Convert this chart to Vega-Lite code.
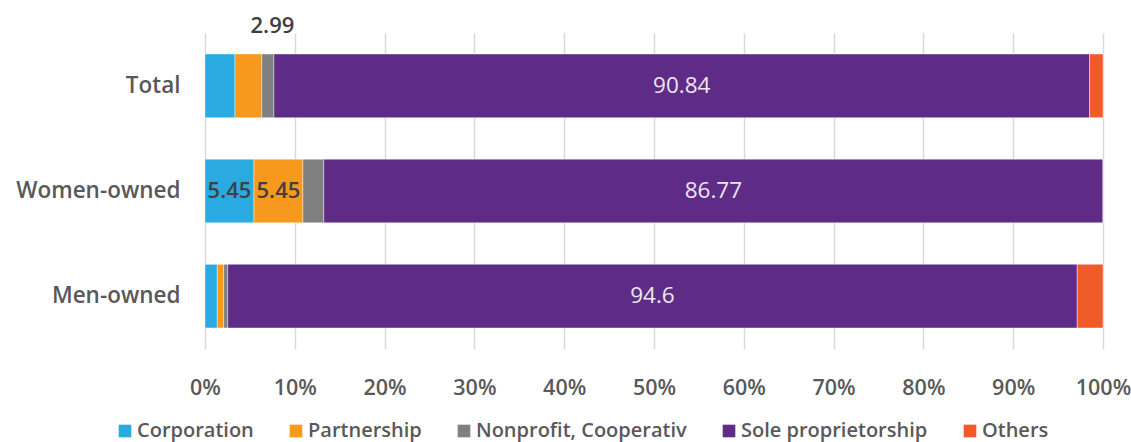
{
  "$schema": "https://vega.github.io/schema/vega-lite/v6.json",
  "width": 898,
  "height": 316,
  "autosize": {"type": "none"},
  "padding": {"left": 205, "top": 33, "right": 28, "bottom": 93},
  "background": "#ffffff",
  "config": {"font": "Open Sans", "view": {"stroke": null}},
  "data": {
    "values": [
      {"group": "Total", "type": "Corporation", "o": 1, "value": 3.34},
      {"group": "Total", "type": "Partnership", "o": 2, "value": 2.99},
      {"group": "Total", "type": "Nonprofit, Cooperativ", "o": 3, "value": 1.34},
      {"group": "Total", "type": "Sole proprietorship", "o": 4, "value": 90.84},
      {"group": "Total", "type": "Others", "o": 5, "value": 1.49},
      {"group": "Women-owned", "type": "Corporation", "o": 1, "value": 5.45},
      {"group": "Women-owned", "type": "Partnership", "o": 2, "value": 5.45},
      {"group": "Women-owned", "type": "Nonprofit, Cooperativ", "o": 3, "value": 2.33},
      {"group": "Women-owned", "type": "Sole proprietorship", "o": 4, "value": 86.77},
      {"group": "Women-owned", "type": "Others", "o": 5, "value": 0},
      {"group": "Men-owned", "type": "Corporation", "o": 1, "value": 1.37},
      {"group": "Men-owned", "type": "Partnership", "o": 2, "value": 0.71},
      {"group": "Men-owned", "type": "Nonprofit, Cooperativ", "o": 3, "value": 0.45},
      {"group": "Men-owned", "type": "Sole proprietorship", "o": 4, "value": 94.6},
      {"group": "Men-owned", "type": "Others", "o": 5, "value": 2.87}
    ]
  },
  "encoding": {
    "y": {
      "field": "group", "type": "nominal",
      "sort": ["Total", "Women-owned", "Men-owned"],
      "scale": {"paddingInner": 0.395, "paddingOuter": 0.2},
      "axis": {"title": null, "ticks": false, "domain": false, "labelFontSize": 22.5, "labelFontWeight": 600, "labelColor": "#595959", "labelPadding": 25, "labelLimit": 300}
    }
  },
  "layer": [
    {
      "mark": {"type": "bar", "stroke": "#ffffff", "strokeWidth": 0.8, "strokeOpacity": 0.5},
      "encoding": {
        "x": {
          "field": "value", "type": "quantitative", "stack": "zero",
          "scale": {"domain": [0, 100], "nice": false},
          "axis": {"title": null, "values": [0, 10, 20, 30, 40, 50, 60, 70, 80, 90, 100], "labelExpr": "datum.value + '%'", "ticks": false, "domain": false, "grid": true, "gridColor": "#d9d9d9", "gridWidth": 1.5, "labelFontSize": 21.5, "labelFontWeight": 600, "labelColor": "#595959", "labelPadding": 28, "labelFlush": false}
        },
        "color": {
          "field": "type", "type": "nominal",
          "scale": {
            "domain": ["Corporation", "Partnership", "Nonprofit, Cooperativ", "Sole proprietorship", "Others"],
            "range": ["#29abe2", "#f7991c", "#808080", "#5e2c86", "#f15a29"]
          },
          "legend": {"orient": "none", "legendX": -90, "legendY": 388, "direction": "horizontal", "title": null, "symbolType": "square", "symbolSize": 160, "symbolStrokeWidth": 0, "labelFontSize": 20, "labelFontWeight": 600, "labelColor": "#595959", "columnPadding": 32, "labelOffset": 2, "labelLimit": 400}
        },
        "order": {"field": "o"}
      }
    },
    {
      "transform": [
        {"stack": "value", "groupby": ["group"], "sort": [{"field": "o"}], "as": ["v0", "v1"]},
        {"filter": "datum.type === 'Sole proprietorship'"},
        {"calculate": "(datum.v0 + datum.v1) / 2", "as": "mid"}
      ],
      "mark": {"type": "text", "fontSize": 22.5, "fontWeight": 400, "baseline": "middle", "align": "center", "color": "#ece6f2"},
      "encoding": {
        "x": {"field": "mid", "type": "quantitative", "axis": {"title": null}},
        "text": {"field": "value", "type": "quantitative"}
      }
    },
    {
      "transform": [
        {"stack": "value", "groupby": ["group"], "sort": [{"field": "o"}], "as": ["v0", "v1"]},
        {"filter": "datum.group === 'Women-owned' && (datum.type === 'Corporation' || datum.type === 'Partnership')"},
        {"calculate": "(datum.v0 + datum.v1) / 2", "as": "mid"}
      ],
      "mark": {"type": "text", "fontSize": 22, "fontWeight": 600, "baseline": "middle", "align": "center", "color": "#404040"},
      "encoding": {
        "x": {"field": "mid", "type": "quantitative", "axis": {"title": null}},
        "text": {"field": "value", "type": "quantitative"}
      }
    },
    {
      "transform": [
        {"stack": "value", "groupby": ["group"], "sort": [{"field": "o"}], "as": ["v0", "v1"]},
        {"filter": "datum.group === 'Total' && datum.type === 'Partnership'"},
        {"calculate": "(datum.v0 + datum.v1) / 2", "as": "mid"}
      ],
      "mark": {"type": "text", "fontSize": 22, "fontWeight": 600, "baseline": "middle", "align": "center", "dx": 24, "dy": -60, "color": "#404040"},
      "encoding": {
        "x": {"field": "mid", "type": "quantitative", "axis": {"title": null}},
        "text": {"field": "value", "type": "quantitative"}
      }
    }
  ]
}
